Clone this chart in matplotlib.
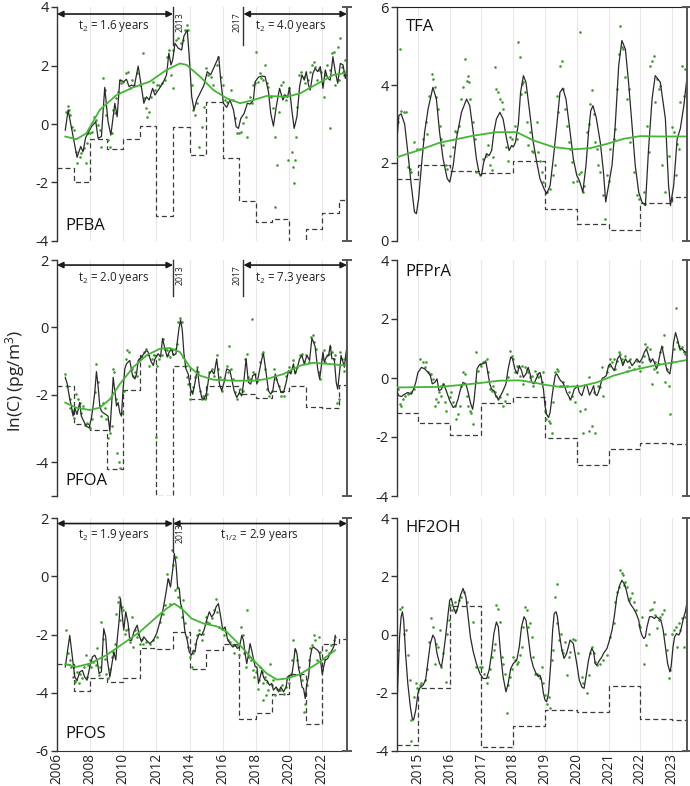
import matplotlib
matplotlib.use('Agg')
import matplotlib.pyplot as plt
import numpy as np

plt.rcParams['font.family'] = ['Open Sans', 'DejaVu Sans']
plt.rcParams['mathtext.fontset'] = 'custom'
plt.rcParams['mathtext.rm'] = 'Open Sans'
plt.rcParams['mathtext.it'] = 'Open Sans:italic'
plt.rcParams['axes.unicode_minus'] = False

# ---------------- DATA ----------------
left_step_years = list(range(2006, 2024)) + [2023.5]
right_step_years = [2014.34] + list(range(2015, 2024)) + [2023.47]

# PFBA
pfba_step = [-1.52, -1.97, -0.52, -0.87, -0.52, -0.07, -3.15, -0.11, -1.06, 0.74, -1.17,
             -2.62, -3.34, -3.26, -4.05, -3.60, -3.03, -2.60]
pfba_fit = [(2006.50, -0.21), (2006.67, 0.48), (2007.21, -1.14), (2007.43, -0.77), (2007.57, -0.95),
            (2007.73, -0.46), (2008.08, -0.09), (2008.34, 0.08), (2008.48, -0.49), (2008.68, -0.43),
            (2008.88, 1.25), (2009.08, 0.08), (2009.25, -0.38), (2009.49, 0.71), (2009.63, 0.25),
            (2009.79, 1.50), (2010.03, 1.45), (2010.19, 1.53), (2010.35, 1.28), (2010.50, 1.33),
            (2010.66, 1.28), (2010.90, 1.98), (2011.06, 1.39), (2011.24, 0.71), (2011.40, 0.93),
            (2011.56, 0.82), (2011.77, 1.22), (2011.91, 0.99), (2012.11, 1.16), (2012.31, 1.33),
            (2012.47, 1.50), (2012.61, 1.68), (2012.75, 2.42), (2012.88, 2.02), (2012.98, 2.19),
            (2013.12, 2.76), (2013.32, 2.59), (2013.52, 2.53), (2013.66, 3.01), (2013.86, 3.21),
            (2013.98, 2.30), (2014.13, 0.93), (2014.27, 0.48), (2014.43, 0.82), (2014.63, 1.05),
            (2014.87, 1.33), (2015.07, 1.79), (2015.27, 1.68), (2015.54, 2.02), (2015.76, 2.30),
            (2015.88, 1.50), (2016.04, 0.71), (2016.24, 0.57), (2016.44, 0.82), (2016.65, 0.48),
            (2016.81, -0.09), (2016.95, -0.15), (2017.09, 0.19), (2017.29, 0.36), (2017.49, 0.71),
            (2017.65, 0.68), (2017.85, 0.82), (2017.96, 1.45), (2018.16, 1.60), (2018.36, 1.64),
            (2018.56, 1.62), (2018.76, 1.11), (2018.90, 0.36), (2019.06, -0.07), (2019.23, 0.59),
            (2019.43, 1.22), (2019.63, 0.82), (2019.77, 0.99), (2019.91, 0.91), (2020.03, 1.25),
            (2020.17, 0.48), (2020.31, -0.15), (2020.48, 0.25), (2020.64, 1.28), (2020.78, 1.68),
            (2020.92, 1.50), (2021.04, 1.79), (2021.18, 1.33), (2021.28, 1.16), (2021.44, 1.73),
            (2021.58, 1.90), (2021.73, 1.79), (2021.89, 1.96), (2022.05, 1.22), (2022.19, 1.85),
            (2022.33, 1.56), (2022.49, 1.50), (2022.65, 2.30), (2022.79, 1.79), (2022.94, 1.39),
            (2023.10, 2.07), (2023.26, 2.02), (2023.40, 1.56), (2023.50, 1.96)]
pfba_trend = [(2006.50, -0.43), (2007.17, -0.52), (2007.77, -0.32), (2008.58, 0.48), (2009.59, 0.99),
              (2010.60, 1.25), (2011.60, 1.45), (2012.61, 1.85), (2013.42, 2.07), (2013.82, 2.02),
              (2014.63, 1.62), (2015.44, 1.16), (2016.24, 0.88), (2017.05, 0.71), (2017.85, 0.82),
              (2018.66, 0.96), (2019.87, 0.93), (2020.68, 1.05), (2021.69, 1.37), (2022.69, 1.68),
              (2023.50, 1.75)]
pfba_obs = [(2006.56, 0.42), (2006.67, 0.62), (2006.73, 0.48), (2006.81, 0.31), (2006.93, -0.09),
            (2007.01, -0.21), (2007.13, -0.95), (2007.21, -1.34), (2007.37, -1.12), (2007.47, -1.00),
            (2007.61, -0.83), (2007.73, -1.34), (2007.81, -0.66), (2007.87, -0.32), (2007.98, -0.32),
            (2008.14, -0.26), (2008.22, 0.25), (2008.34, 0.14), (2008.48, -0.03), (2008.58, -0.21),
            (2008.68, -0.77), (2008.78, 1.56), (2008.88, 1.16), (2008.98, 0.31), (2009.08, -0.55),
            (2009.19, -0.77), (2009.29, -0.32), (2009.39, 0.48), (2009.49, 0.36), (2009.59, 0.88),
            (2009.69, 1.11), (2009.79, 1.50), (2009.89, 1.39), (2009.99, 1.45), (2010.15, 1.75),
            (2010.29, 1.79), (2010.40, 1.22), (2010.50, 1.50), (2010.64, 1.33), (2010.80, 1.73),
            (2011.00, 1.33), (2011.16, 2.44), (2011.24, 0.88), (2011.36, 0.54), (2011.44, 0.25),
            (2011.56, 0.42), (2011.65, 0.93), (2011.77, 1.45), (2011.91, 1.16), (2012.01, 1.33),
            (2012.17, 1.33), (2012.31, 1.39), (2012.51, 1.50), (2012.65, 2.30), (2012.77, 2.53),
            (2012.85, 1.68), (2012.98, 1.22), (2013.02, 2.53), (2013.18, 2.87), (2013.32, 2.93),
            (2013.46, 2.76), (2013.62, 2.87), (2013.72, 3.21), (2013.82, 3.38), (2013.92, 3.21),
            (2014.13, 1.33), (2014.23, 0.48), (2014.33, 0.31), (2014.43, 0.71), (2014.59, -0.77),
            (2014.73, -0.09), (2014.87, 0.59), (2014.99, 1.90), (2015.13, 1.68), (2015.27, 1.62),
            (2015.44, 1.33), (2015.64, 2.02), (2015.74, 2.30), (2015.88, 1.62), (2016.04, 1.33),
            (2016.14, 0.82), (2016.28, 0.76), (2016.48, 1.16), (2016.61, 0.82), (2016.75, 0.19),
            (2016.89, -0.32), (2017.01, -0.30), (2017.09, -0.26), (2017.25, 0.02), (2017.41, 0.25),
            (2017.49, -0.43), (2017.65, 0.93), (2017.75, 0.71), (2017.85, 1.33), (2017.96, 1.39),
            (2018.02, 2.47), (2018.10, 1.45), (2018.22, 1.73), (2018.30, 1.56), (2018.46, 1.50),
            (2018.56, 2.02), (2018.66, 1.39), (2018.76, 1.28), (2018.90, 0.93), (2019.06, 0.54),
            (2019.13, -2.83), (2019.17, -0.46), (2019.27, -1.40), (2019.37, 0.42), (2019.51, 1.33),
            (2019.63, 1.45), (2019.71, 0.99), (2019.83, 0.82), (2019.91, -1.23), (2020.03, 1.22),
            (2020.17, -0.95), (2020.27, -1.46), (2020.33, -2.03), (2020.37, -1.23), (2020.43, -0.43),
            (2020.48, 0.59), (2020.58, 1.68), (2020.72, 1.79), (2020.88, 1.62), (2020.98, 1.39),
            (2021.12, 1.50), (2021.24, 1.79), (2021.38, 2.02), (2021.48, 2.13), (2021.58, 1.96),
            (2021.69, 1.50), (2021.79, 1.85), (2021.93, 1.79), (2022.09, 0.93), (2022.19, 1.68),
            (2022.29, 2.02), (2022.45, 1.85), (2022.45, -0.15), (2022.59, 2.42), (2022.69, 2.47),
            (2022.79, 1.33), (2022.94, 2.64), (2023.00, 1.50), (2023.10, 2.93), (2023.20, 1.96),
            (2023.26, 1.79), (2023.30, 1.68), (2023.40, 2.19), (2023.50, 2.89)]

# PFOA
pfoa_step = [-1.73, -2.85, -3.05, -4.21, -1.86, -0.81, -5.00, -1.15, -2.13, -1.73, -1.73,
             -1.98, -2.10, -1.88, -1.75, -2.35, -2.38, -1.71]
pfoa_fit = [(2006.50, -1.48), (2006.62, -1.68), (2006.77, -2.13), (2006.87, -2.33), (2006.97, -2.63),
            (2007.07, -2.38), (2007.21, -2.58), (2007.37, -2.23), (2007.47, -2.63), (2007.61, -2.78),
            (2007.77, -2.93), (2007.94, -2.98), (2008.08, -2.68), (2008.18, -2.33), (2008.28, -1.93),
            (2008.38, -1.31), (2008.48, -1.73), (2008.58, -2.33), (2008.68, -2.48), (2008.78, -2.53),
            (2008.94, -2.58), (2009.08, -2.63), (2009.19, -3.08), (2009.29, -2.33), (2009.39, -1.48),
            (2009.49, -1.88), (2009.59, -2.33), (2009.69, -2.23), (2009.79, -2.53), (2009.89, -2.63),
            (2009.99, -1.83), (2010.09, -1.23), (2010.19, -1.08), (2010.39, -0.98), (2010.56, -1.43),
            (2010.70, -1.53), (2010.80, -1.38), (2010.90, -0.98), (2011.10, -0.88), (2011.24, -0.78),
            (2011.40, -0.68), (2011.50, -0.73), (2011.65, -0.98), (2011.81, -1.13), (2011.91, -0.93),
            (2012.11, -0.78), (2012.25, -0.88), (2012.37, -0.33), (2012.51, -0.63), (2012.65, -0.88),
            (2012.77, -0.73), (2012.91, -0.63), (2013.02, -0.83), (2013.18, -0.78), (2013.26, -0.43),
            (2013.36, -0.03), (2013.46, 0.22), (2013.56, -0.08), (2013.66, -0.78), (2013.78, -1.23),
            (2013.92, -1.38), (2014.06, -1.83), (2014.19, -1.98), (2014.33, -1.63), (2014.47, -1.23),
            (2014.59, -1.73), (2014.73, -2.08), (2014.87, -2.13), (2015.03, -1.93), (2015.19, -1.38),
            (2015.33, -1.28), (2015.48, -1.38), (2015.64, -0.93), (2015.80, -1.68), (2015.94, -1.88),
            (2016.08, -1.63), (2016.24, -1.23), (2016.44, -1.28), (2016.54, -1.53), (2016.69, -1.88),
            (2016.85, -2.08), (2017.01, -1.93), (2017.15, -2.03), (2017.29, -1.53), (2017.41, -0.93),
            (2017.55, -1.63), (2017.69, -1.68), (2017.81, -1.43), (2017.96, -1.38), (2018.06, -1.68),
            (2018.22, -1.28), (2018.36, -0.93), (2018.46, -0.78), (2018.60, -1.28), (2018.76, -1.88),
            (2018.90, -1.98), (2019.02, -1.88), (2019.17, -1.38), (2019.31, -1.63), (2019.43, -1.78),
            (2019.51, -1.93), (2019.67, -1.93), (2019.83, -1.63), (2019.97, -1.28), (2020.11, -1.38),
            (2020.27, -1.08), (2020.37, -1.38), (2020.48, -1.23), (2020.64, -0.93), (2020.78, -0.83),
            (2020.92, -1.08), (2021.08, -0.83), (2021.24, -0.98), (2021.38, -0.33), (2021.48, -0.43),
            (2021.58, -0.58), (2021.73, -1.23), (2021.85, -1.53), (2021.93, -1.23), (2022.05, -0.73),
            (2022.13, -1.03), (2022.25, -0.88), (2022.39, -0.83), (2022.49, -0.53), (2022.59, -0.93),
            (2022.73, -0.93), (2022.85, -1.63), (2022.94, -1.83), (2023.06, -1.28), (2023.14, -0.83),
            (2023.26, -1.03), (2023.34, -1.18), (2023.42, -0.83), (2023.50, -0.58)]
pfoa_trend = [(2006.50, -2.23), (2007.17, -2.38), (2007.98, -2.45), (2008.58, -2.38), (2009.19, -2.13),
              (2009.79, -1.68), (2010.60, -1.18), (2011.40, -0.83), (2012.21, -0.63), (2012.81, -0.61),
              (2013.42, -0.73), (2014.02, -1.18), (2014.63, -1.43), (2015.44, -1.55), (2016.65, -1.58),
              (2017.85, -1.58), (2018.66, -1.53), (2019.67, -1.38), (2020.68, -1.13), (2021.48, -1.05),
              (2022.29, -1.08), (2023.50, -1.13)]
pfoa_obs = [(2006.50, -1.38), (2006.62, -1.73), (2006.77, -2.13), (2006.81, -2.38), (2006.93, -2.48),
            (2007.01, -2.68), (2007.13, -1.98), (2007.27, -2.13), (2007.37, -2.23), (2007.47, -2.53),
            (2007.57, -2.33), (2007.67, -2.88), (2007.81, -2.83), (2007.98, -2.98), (2008.14, -2.73),
            (2008.28, -1.93), (2008.38, -1.08), (2008.50, -1.63), (2008.58, -2.33), (2008.68, -2.63),
            (2008.78, -2.23), (2008.88, -2.38), (2008.98, -2.73), (2009.08, -3.28), (2009.19, -3.13),
            (2009.29, -2.93), (2009.35, -1.23), (2009.43, -1.33), (2009.55, -2.13), (2009.63, -3.73),
            (2009.75, -3.98), (2009.83, -4.18), (2009.95, -2.53), (2010.03, -1.88), (2010.15, -0.93),
            (2010.23, -0.68), (2010.35, -0.73), (2010.50, -1.23), (2010.60, -1.43), (2010.70, -1.33),
            (2010.80, -1.43), (2010.96, -0.93), (2011.10, -0.88), (2011.24, -0.73), (2011.40, -0.63),
            (2011.56, -1.13), (2011.71, -0.93), (2011.85, -0.83), (2011.97, -3.25), (2012.01, -1.13),
            (2012.17, -0.93), (2012.31, -0.83), (2012.41, -0.33), (2012.51, -0.63), (2012.61, -0.68),
            (2012.71, -0.83), (2012.81, -0.88), (2012.91, -0.68), (2013.02, -0.78), (2013.12, -0.63),
            (2013.22, -0.48), (2013.32, 0.17), (2013.42, 0.27), (2013.52, 0.17), (2013.62, -0.88),
            (2013.72, -1.13), (2013.82, -1.48), (2013.92, -1.68), (2014.02, -2.13), (2014.12, -1.88),
            (2014.23, -1.78), (2014.33, -1.48), (2014.43, -1.18), (2014.53, -1.33), (2014.63, -1.88),
            (2014.73, -2.13), (2014.83, -2.03), (2014.93, -2.13), (2015.07, -1.98), (2015.19, -1.33),
            (2015.33, -1.23), (2015.48, -1.43), (2015.64, -0.83), (2015.74, -1.23), (2015.84, -1.48),
            (2015.94, -1.88), (2016.08, -1.53), (2016.24, -1.13), (2016.34, -1.33), (2016.40, -0.55),
            (2016.48, -1.23), (2016.61, -1.53), (2016.75, -1.93), (2016.89, -2.13), (2017.05, -1.83),
            (2017.21, -1.88), (2017.35, -0.93), (2017.45, -0.78), (2017.55, -1.48), (2017.65, -1.53),
            (2017.75, 0.25), (2017.85, -1.33), (2017.96, -1.38), (2018.06, -1.58), (2018.22, -1.03),
            (2018.36, -0.78), (2018.46, -0.73), (2018.56, -1.23), (2018.66, -1.83), (2018.82, -2.03),
            (2018.96, -1.88), (2019.10, -1.23), (2019.23, -1.53), (2019.37, -1.73), (2019.51, -2.03),
            (2019.67, -2.03), (2019.83, -1.43), (2019.97, -1.18), (2020.07, -1.33), (2020.23, -0.98),
            (2020.37, -1.33), (2020.48, -1.18), (2020.64, -0.83), (2020.78, -0.78), (2020.88, -1.03),
            (2021.04, -0.83), (2021.18, -1.03), (2021.32, -0.28), (2021.44, -0.23), (2021.52, -0.43),
            (2021.64, -0.63), (2021.79, -1.33), (2021.89, -1.53), (2021.99, -0.93), (2022.09, -0.68),
            (2022.19, -1.03), (2022.29, -0.83), (2022.39, -0.78), (2022.49, -0.58), (2022.59, -0.73),
            (2022.69, -0.93), (2022.79, -0.83), (2022.89, -2.23), (2022.99, -2.13), (2023.10, -0.73),
            (2023.20, -0.93), (2023.30, -1.28), (2023.40, -0.93), (2023.50, -0.13)]

# PFOS
pfos_step = [-3.00, -3.94, -3.51, -3.63, -3.49, -2.46, -2.51, -1.92, -3.20, -2.54, -2.33,
             -4.91, -4.68, -4.05, -3.34, -5.06, -2.33, -2.17]
pfos_fit = [(2006.50, -3.11), (2006.77, -2.03), (2007.07, -3.46), (2007.21, -3.57), (2007.37, -3.29),
            (2007.53, -3.23), (2007.67, -3.46), (2007.81, -3.57), (2007.98, -3.11), (2008.14, -2.77),
            (2008.28, -2.71), (2008.42, -2.88), (2008.54, -3.34), (2008.68, -3.28), (2008.82, -1.80),
            (2008.94, -2.08), (2009.04, -2.88), (2009.19, -3.46), (2009.29, -3.11), (2009.43, -2.60),
            (2009.55, -2.88), (2009.63, -2.20), (2009.75, -1.51), (2009.83, -0.77), (2009.95, -1.40),
            (2010.03, -1.85), (2010.15, -1.22), (2010.29, -1.62), (2010.39, -2.20), (2010.50, -2.20),
            (2010.64, -1.91), (2010.84, -1.68), (2010.96, -2.03), (2011.10, -2.25), (2011.24, -2.08),
            (2011.40, -2.20), (2011.60, -2.31), (2011.81, -2.20), (2012.01, -1.97), (2012.21, -1.57),
            (2012.41, -1.11), (2012.57, -0.59), (2012.71, -0.08), (2012.85, -0.37), (2012.98, 0.21),
            (2013.08, 0.78), (2013.18, 0.43), (2013.28, -0.37), (2013.38, -0.42), (2013.46, -0.94),
            (2013.58, -1.17), (2013.72, -1.91), (2013.86, -2.20), (2013.98, -2.60), (2014.12, -2.71),
            (2014.23, -2.54), (2014.33, -2.60), (2014.43, -2.20), (2014.59, -1.97), (2014.73, -2.03),
            (2014.87, -1.85), (2015.03, -1.51), (2015.19, -1.22), (2015.33, -1.40), (2015.48, -1.28),
            (2015.60, -1.05), (2015.74, -0.94), (2015.88, -1.40), (2016.00, -1.85), (2016.14, -1.74),
            (2016.28, -2.14), (2016.44, -2.31), (2016.61, -2.43), (2016.75, -2.37), (2016.89, -2.48),
            (2017.01, -2.43), (2017.15, -2.03), (2017.25, -2.20), (2017.35, -2.65), (2017.45, -3.00),
            (2017.55, -2.71), (2017.65, -2.31), (2017.75, -2.54), (2017.85, -2.83), (2017.96, -3.11),
            (2018.06, -3.11), (2018.16, -3.68), (2018.26, -3.46), (2018.36, -3.23), (2018.46, -3.46),
            (2018.56, -3.57), (2018.66, -3.57), (2018.82, -3.74), (2018.96, -3.68), (2019.06, -3.91),
            (2019.23, -3.80), (2019.37, -3.97), (2019.51, -3.80), (2019.67, -3.97), (2019.83, -3.80),
            (2019.91, -3.46), (2020.03, -3.40), (2020.17, -3.40), (2020.27, -3.00), (2020.37, -2.48),
            (2020.48, -2.65), (2020.58, -3.17), (2020.68, -3.40), (2020.78, -3.80), (2020.88, -3.86),
            (2020.98, -4.20), (2021.08, -3.68), (2021.18, -3.46), (2021.28, -2.77), (2021.38, -2.48),
            (2021.48, -2.43), (2021.58, -2.48), (2021.73, -2.54), (2021.85, -2.65), (2021.93, -3.00),
            (2022.01, -3.36), (2022.09, -3.11), (2022.19, -2.88), (2022.33, -2.83), (2022.49, -2.65),
            (2022.65, -2.48), (2022.73, -2.37), (2022.79, -2.03)]
pfos_trend = [(2006.50, -3.02), (2007.17, -3.11), (2007.98, -3.00), (2008.98, -2.71), (2009.99, -2.31),
              (2011.00, -1.91), (2012.01, -1.40), (2012.61, -1.11), (2013.08, -0.94), (2013.52, -1.11),
              (2014.12, -1.45), (2014.83, -1.62), (2015.64, -1.72), (2016.24, -1.91), (2017.05, -2.37),
              (2017.85, -2.88), (2018.66, -3.34), (2019.27, -3.55), (2019.87, -3.51), (2020.68, -3.36),
              (2021.69, -3.00), (2022.79, -2.54)]
pfos_obs = [(2006.56, -1.85), (2006.67, -2.65), (2006.77, -2.88), (2006.87, -3.11), (2006.97, -3.45),
            (2007.07, -3.63), (2007.17, -3.57), (2007.21, -3.28), (2007.33, -3.68), (2007.41, -3.34),
            (2007.53, -3.51), (2007.61, -3.11), (2007.73, -2.71), (2007.81, -3.45), (2007.90, -3.05),
            (2007.98, -2.88), (2008.08, -3.11), (2008.18, -2.94), (2008.34, -3.05), (2008.42, -2.48),
            (2008.54, -3.40), (2008.62, -3.11), (2008.68, -1.57), (2008.78, -2.14), (2008.88, -2.83),
            (2008.98, -3.34), (2009.08, -3.51), (2009.19, -3.17), (2009.29, -2.77), (2009.39, -2.60),
            (2009.49, -2.31), (2009.59, -1.28), (2009.69, -0.88), (2009.75, -0.71), (2009.83, -1.51),
            (2009.91, -1.05), (2009.99, -1.17), (2010.09, -1.97), (2010.19, -1.85), (2010.29, -1.80),
            (2010.39, -2.25), (2010.50, -1.40), (2010.60, -2.43), (2010.70, -1.85), (2010.80, -2.08),
            (2010.90, -1.97), (2011.00, -2.31), (2011.10, -2.14), (2011.20, -2.31), (2011.40, -2.25),
            (2011.60, -2.31), (2011.81, -2.20), (2012.01, -2.08), (2012.21, -1.57), (2012.41, -1.28),
            (2012.51, -1.00), (2012.61, 0.09), (2012.71, -0.14), (2012.81, -0.94), (2012.91, 0.89),
            (2013.02, 0.38), (2013.12, -0.48), (2013.18, 0.66), (2013.26, -0.42), (2013.32, -0.71),
            (2013.42, -1.05), (2013.52, -1.40), (2013.62, -0.82), (2013.72, -1.62), (2013.82, -2.08),
            (2013.92, -2.43), (2014.02, -2.77), (2014.12, -3.11), (2014.23, -2.65), (2014.33, -2.31),
            (2014.43, -2.02), (2014.59, -1.85), (2014.73, -2.20), (2014.83, -1.97), (2014.99, -1.40),
            (2015.07, -1.57), (2015.19, -1.62), (2015.33, -1.45), (2015.48, -1.17), (2015.60, -0.79),
            (2015.68, -1.22), (2015.80, -1.74), (2015.94, -1.80), (2016.08, -2.02), (2016.20, -1.91),
            (2016.34, -2.20), (2016.44, -2.25), (2016.61, -2.37), (2016.69, -2.65), (2016.85, -2.37),
            (2017.01, -2.71), (2017.09, -1.74), (2017.21, -2.02), (2017.29, -2.65), (2017.41, -3.11),
            (2017.49, -1.17), (2017.61, -2.77), (2017.69, -2.88), (2017.81, -3.23), (2017.89, -3.45),
            (2018.02, -3.28), (2018.10, -3.86), (2018.18, -3.57), (2018.26, -3.11), (2018.36, -3.28),
            (2018.42, -4.26), (2018.46, -3.68), (2018.56, -3.45), (2018.62, -4.08), (2018.66, -3.63),
            (2018.76, -3.91), (2018.86, -3.00), (2018.96, -3.74), (2019.06, -3.57), (2019.17, -4.08),
            (2019.27, -3.86), (2019.43, -3.91), (2019.57, -3.74), (2019.67, -4.03), (2019.83, -3.80),
            (2019.91, -3.45), (2020.03, -3.68), (2020.11, -3.34), (2020.19, -2.88), (2020.27, -2.20),
            (2020.37, -2.54), (2020.48, -2.88), (2020.58, -3.11), (2020.68, -3.40), (2020.78, -3.57),
            (2020.88, -4.65), (2020.98, -4.37), (2021.08, -3.74), (2021.18, -2.88), (2021.28, -2.48),
            (2021.38, -2.37), (2021.48, -2.02), (2021.58, -2.20), (2021.69, -2.88), (2021.79, -2.08),
            (2021.89, -2.60), (2021.99, -3.23), (2022.09, -2.83), (2022.25, -2.54), (2022.39, -2.65),
            (2022.53, -2.37), (2022.69, -2.20), (2022.79, -2.08)]

# TFA
tfa_step = [1.58, 1.95, 1.79, 1.75, 2.06, 0.81, 0.44, 0.29, 0.98, 1.13]
tfa_fit = [(2014.34, 2.62), (2014.40, 3.22), (2014.47, 3.26), (2014.58, 3.00), (2014.68, 2.28),
           (2014.79, 1.43), (2014.89, 0.74), (2014.95, 0.70), (2015.02, 1.08), (2015.11, 1.94),
           (2015.21, 2.79), (2015.32, 3.39), (2015.47, 3.94), (2015.58, 3.64), (2015.68, 2.79),
           (2015.79, 2.11), (2015.92, 1.60), (2016.00, 1.51), (2016.11, 1.94), (2016.21, 2.62),
           (2016.37, 3.30), (2016.53, 3.64), (2016.63, 3.47), (2016.74, 2.79), (2016.84, 2.11),
           (2016.93, 1.72), (2017.00, 1.68), (2017.07, 2.02), (2017.16, 2.24), (2017.24, 2.19),
           (2017.32, 2.32), (2017.39, 2.79), (2017.47, 3.13), (2017.58, 3.30), (2017.68, 3.13),
           (2017.79, 2.62), (2017.87, 2.32), (2017.95, 2.45), (2018.00, 2.41), (2018.07, 2.53),
           (2018.16, 3.00), (2018.23, 3.81), (2018.32, 4.24), (2018.40, 4.07), (2018.53, 3.22),
           (2018.63, 2.53), (2018.74, 2.02), (2018.84, 1.60), (2018.97, 1.34), (2019.05, 1.21),
           (2019.16, 1.42), (2019.26, 2.11), (2019.37, 2.96), (2019.47, 3.81), (2019.56, 3.92),
           (2019.66, 3.64), (2019.79, 2.79), (2019.89, 2.11), (2020.00, 1.68), (2020.08, 1.55),
           (2020.13, 1.42), (2020.19, 1.25), (2020.29, 1.94), (2020.37, 2.79), (2020.44, 3.34),
           (2020.51, 3.47), (2020.61, 3.17), (2020.74, 2.53), (2020.84, 1.77), (2020.91, 1.00),
           (2021.00, 1.42), (2021.11, 1.94), (2021.21, 2.96), (2021.32, 4.50), (2021.42, 5.14),
           (2021.53, 4.92), (2021.63, 4.07), (2021.74, 2.96), (2021.84, 1.94), (2021.95, 1.25),
           (2022.05, 1.00), (2022.16, 0.91), (2022.26, 2.36), (2022.37, 3.64), (2022.47, 4.24),
           (2022.63, 4.07), (2022.79, 3.13), (2022.89, 1.42), (2022.95, 0.91), (2023.05, 1.42),
           (2023.16, 2.62), (2023.26, 2.88), (2023.37, 3.47), (2023.47, 4.20)]
tfa_trend = [(2014.34, 2.15), (2015.00, 2.32), (2015.68, 2.52), (2016.74, 2.70), (2017.47, 2.79),
             (2018.11, 2.79), (2018.63, 2.58), (2019.26, 2.41), (2019.89, 2.35), (2020.42, 2.38),
             (2020.95, 2.49), (2021.47, 2.62), (2022.00, 2.69), (2022.53, 2.68), (2023.47, 2.68)]
tfa_obs = [(2014.37, 3.05), (2014.42, 4.92), (2014.47, 3.34), (2014.55, 3.30), (2014.61, 3.30),
           (2014.68, 1.89), (2014.74, 1.85), (2014.79, 1.77), (2014.89, 2.53), (2014.97, 2.36),
           (2015.05, 2.36), (2015.16, 2.62), (2015.24, 3.05), (2015.28, 2.75), (2015.35, 3.73),
           (2015.45, 4.28), (2015.47, 4.16), (2015.53, 3.94), (2015.58, 3.69), (2015.63, 3.39),
           (2015.68, 2.96), (2015.74, 2.62), (2015.79, 2.45), (2015.87, 1.94), (2015.92, 1.85),
           (2016.00, 2.19), (2016.11, 2.41), (2016.16, 2.83), (2016.21, 2.79), (2016.29, 2.96),
           (2016.37, 3.64), (2016.42, 3.94), (2016.47, 4.67), (2016.53, 4.11), (2016.58, 4.24),
           (2016.61, 4.07), (2016.65, 3.64), (2016.72, 3.05), (2016.79, 2.62), (2016.84, 1.77),
           (2016.95, 1.68), (2017.05, 2.11), (2017.14, 2.19), (2017.21, 2.45), (2017.26, 1.94),
           (2017.32, 1.81), (2017.37, 2.15), (2017.42, 4.45), (2017.47, 3.90), (2017.53, 3.81),
           (2017.58, 3.64), (2017.63, 3.56), (2017.68, 3.39), (2017.77, 2.41), (2017.84, 2.06),
           (2017.89, 2.66), (2017.95, 2.62), (2018.05, 2.96), (2018.11, 2.62), (2018.16, 5.09),
           (2018.21, 4.71), (2018.23, 3.77), (2018.26, 4.03), (2018.32, 4.07), (2018.37, 3.81),
           (2018.42, 3.05), (2018.47, 2.45), (2018.53, 2.79), (2018.58, 2.32), (2018.63, 2.28),
           (2018.74, 3.05), (2018.79, 2.28), (2018.84, 2.06), (2018.89, 1.77), (2018.95, 1.51),
           (2019.05, 1.25), (2019.16, 1.34), (2019.26, 1.68), (2019.32, 1.94), (2019.37, 3.73),
           (2019.42, 3.30), (2019.47, 4.50), (2019.53, 4.62), (2019.58, 3.90), (2019.63, 3.39),
           (2019.68, 2.96), (2019.74, 2.53), (2019.79, 2.36), (2019.84, 2.02), (2019.89, 1.51),
           (2020.00, 1.53), (2020.08, 1.72), (2020.11, 5.35), (2020.13, 1.77), (2020.19, 1.25),
           (2020.23, 1.42), (2020.32, 2.79), (2020.37, 3.00), (2020.42, 3.52), (2020.47, 3.86),
           (2020.53, 3.26), (2020.58, 2.53), (2020.63, 2.36), (2020.68, 1.94), (2020.74, 1.77),
           (2020.84, 1.17), (2020.89, 0.57), (2020.95, 1.68), (2021.00, 1.55), (2021.05, 2.36),
           (2021.16, 2.62), (2021.21, 2.88), (2021.26, 3.90), (2021.32, 4.80), (2021.37, 5.52),
           (2021.42, 4.97), (2021.47, 4.92), (2021.53, 4.20), (2021.58, 3.64), (2021.63, 3.90),
           (2021.68, 2.53), (2021.79, 1.77), (2021.89, 1.17), (2021.95, 1.08), (2022.11, 1.25),
           (2022.16, 0.96), (2022.21, 2.96), (2022.26, 2.28), (2022.32, 4.50), (2022.37, 4.62),
           (2022.42, 4.75), (2022.47, 3.56), (2022.53, 4.16), (2022.58, 3.90), (2022.63, 3.98),
           (2022.68, 1.94), (2022.79, 1.25), (2022.89, 2.19), (2023.00, 2.92), (2023.05, 2.79),
           (2023.11, 1.68), (2023.16, 2.49), (2023.21, 2.36), (2023.26, 3.56), (2023.32, 4.50),
           (2023.37, 3.73), (2023.42, 4.41), (2023.47, 5.22)]

# PFPrA
pfpra_step = [-1.17, -1.51, -1.93, -0.85, -0.66, -2.03, -2.94, -2.42, -2.20, -2.25]
pfpra_fit = [(2014.34, -0.49), (2014.40, -0.60), (2014.47, -0.63), (2014.58, -0.55), (2014.68, -0.49),
             (2014.79, -0.55), (2014.86, -0.38), (2014.93, -0.15), (2015.00, 0.19), (2015.11, 0.36),
             (2015.21, 0.31), (2015.32, 0.19), (2015.39, 0.08), (2015.45, -0.20), (2015.53, -0.15),
             (2015.60, -0.03), (2015.66, -0.43), (2015.74, -0.38), (2015.81, -0.20), (2015.89, -0.43),
             (2016.00, -0.77), (2016.11, -1.00), (2016.19, -0.94), (2016.26, -0.72), (2016.34, -0.38),
             (2016.42, -0.15), (2016.51, -0.20), (2016.58, -0.49), (2016.65, -0.83), (2016.72, -1.06),
             (2016.77, -0.72), (2016.82, -0.15), (2016.86, 0.31), (2016.93, 0.44), (2017.03, 0.48),
             (2017.14, 0.53), (2017.18, 0.31), (2017.26, -0.20), (2017.32, -0.38), (2017.39, -0.43),
             (2017.45, -0.60), (2017.53, -0.72), (2017.60, -0.60), (2017.68, -0.43), (2017.77, -0.20),
             (2017.84, 0.31), (2017.92, 0.71), (2017.98, 0.65), (2018.05, 0.31), (2018.13, 0.14),
             (2018.19, 0.42), (2018.26, 0.25), (2018.32, 0.02), (2018.40, 0.14), (2018.47, 0.36),
             (2018.53, 0.14), (2018.58, -0.15), (2018.65, -0.20), (2018.72, -0.03), (2018.79, 0.14),
             (2018.84, 0.19), (2018.89, -0.03), (2018.95, -0.38), (2019.00, -0.94), (2019.05, -1.23),
             (2019.11, -1.34), (2019.16, -1.17), (2019.21, -0.72), (2019.26, -0.32), (2019.32, 0.08),
             (2019.37, 0.14), (2019.43, 0.02), (2019.49, -0.09), (2019.56, -0.15), (2019.63, -0.32),
             (2019.68, -0.49), (2019.74, -0.60), (2019.79, -0.72), (2019.84, -0.66), (2019.92, -0.38),
             (2019.98, -0.32), (2020.02, -0.24), (2020.08, -0.49), (2020.16, -0.60), (2020.26, -0.24),
             (2020.32, -0.26), (2020.40, -0.58), (2020.47, -0.43), (2020.53, -0.26), (2020.58, -0.55),
             (2020.63, -0.60), (2020.68, -0.49), (2020.74, -0.26), (2020.80, -0.01), (2020.86, 0.02),
             (2020.93, 0.08), (2021.00, 0.42), (2021.05, 0.48), (2021.11, 0.36), (2021.18, 0.25),
             (2021.24, 0.48), (2021.28, 0.65), (2021.35, 0.76), (2021.39, 0.65), (2021.45, 0.42),
             (2021.53, 0.65), (2021.60, 0.53), (2021.66, 0.59), (2021.74, 0.42), (2021.79, 0.48),
             (2021.89, 0.65), (2021.98, 0.53), (2022.05, 0.65), (2022.13, 0.88), (2022.19, 0.99),
             (2022.26, 0.76), (2022.32, 0.53), (2022.39, 0.65), (2022.44, 0.53), (2022.51, 0.31),
             (2022.55, 0.42), (2022.61, 0.76), (2022.68, 1.08), (2022.76, 0.65), (2022.84, 0.25),
             (2022.93, 0.14), (2023.00, 0.65), (2023.05, 1.22), (2023.11, 1.54), (2023.18, 1.27),
             (2023.24, 0.99), (2023.32, 0.99), (2023.39, 0.90), (2023.47, 0.85)]
pfpra_trend = [(2014.34, -0.32), (2015.00, -0.31), (2015.68, -0.30), (2016.32, -0.24), (2016.95, -0.17),
               (2017.58, -0.09), (2018.21, -0.08), (2018.63, -0.15), (2019.05, -0.24), (2019.47, -0.30),
               (2020.11, -0.28), (2020.63, -0.15), (2021.16, 0.08), (2021.79, 0.27), (2022.42, 0.42),
               (2023.05, 0.53), (2023.47, 0.61)]
pfpra_obs = [(2014.37, -0.38), (2014.42, -0.89), (2014.47, -0.94), (2014.53, -0.72), (2014.58, -0.60),
             (2014.68, -0.55), (2014.79, -0.49), (2014.89, -0.38), (2015.05, 0.65), (2015.16, 0.53),
             (2015.21, 0.36), (2015.26, 0.53), (2015.32, 0.19), (2015.37, 0.14), (2015.42, 0.14),
             (2015.47, -0.03), (2015.53, -0.94), (2015.58, -0.72), (2015.63, -0.83), (2015.66, -0.49),
             (2015.71, -0.60), (2015.74, -0.26), (2015.79, -0.20), (2015.84, -0.83), (2015.89, -1.12),
             (2016.00, -0.66), (2016.05, -0.49), (2016.11, -0.83), (2016.16, -0.94), (2016.21, -1.40),
             (2016.26, -1.23), (2016.32, -0.94), (2016.37, -0.26), (2016.42, 0.19), (2016.47, 0.14),
             (2016.53, -0.60), (2016.58, -0.94), (2016.63, -1.12), (2016.68, -1.17), (2016.74, -1.57),
             (2016.82, -0.15), (2016.84, 0.88), (2016.89, 0.25), (2016.95, 0.48), (2017.00, 0.42),
             (2017.05, 0.53), (2017.11, 0.59), (2017.16, 0.65), (2017.21, 0.19), (2017.26, -0.38),
             (2017.32, -0.43), (2017.37, -0.26), (2017.42, -0.49), (2017.47, -0.60), (2017.53, -0.72),
             (2017.58, -0.66), (2017.68, -0.94), (2017.74, -0.77), (2017.79, -0.55), (2017.84, 0.02),
             (2017.89, 0.93), (2017.95, 0.76), (2018.00, 0.65), (2018.05, 0.19), (2018.11, 0.42),
             (2018.16, 0.36), (2018.21, 0.08), (2018.26, 0.42), (2018.32, -0.20), (2018.37, 0.36),
             (2018.42, 0.31), (2018.47, 0.19), (2018.53, 0.02), (2018.58, 0.08), (2018.63, -0.26),
             (2018.68, 0.25), (2018.74, 0.14), (2018.79, 0.02), (2018.84, 0.08), (2018.89, -0.15),
             (2018.95, 0.19), (2019.00, -1.12), (2019.03, -1.40), (2019.11, -1.46), (2019.16, -1.51),
             (2019.21, -1.85), (2019.26, -0.83), (2019.32, 0.19), (2019.37, 0.31), (2019.42, 0.25),
             (2019.47, -0.26), (2019.53, -0.26), (2019.58, -0.15), (2019.68, -0.26), (2019.74, -0.49),
             (2019.79, -0.72), (2019.84, -0.60), (2019.95, -0.83), (2020.11, -1.12), (2020.21, -1.85),
             (2020.26, -1.06), (2020.37, 0.02), (2020.40, -1.80), (2020.47, -1.63), (2020.53, -0.49),
             (2020.58, -1.85), (2020.68, -0.26), (2020.74, -0.32), (2020.79, 0.36), (2020.84, -0.60),
             (2020.95, 0.19), (2021.00, 0.42), (2021.05, 0.65), (2021.11, 0.53), (2021.16, 0.65),
             (2021.21, 0.31), (2021.26, 0.59), (2021.32, 0.88), (2021.37, 0.82), (2021.42, 0.65),
             (2021.47, 0.53), (2021.53, 0.76), (2021.58, 0.25), (2021.63, 0.36), (2021.68, 0.65),
             (2021.79, 0.31), (2021.89, 0.59), (2021.95, 0.42), (2022.00, 0.25), (2022.05, 0.53),
             (2022.11, 0.76), (2022.16, 1.16), (2022.21, 1.05), (2022.26, 0.65), (2022.32, 0.99),
             (2022.37, -0.20), (2022.42, 0.31), (2022.47, 0.53), (2022.53, 0.19), (2022.58, 0.48),
             (2022.63, 0.88), (2022.68, 1.05), (2022.74, 1.45), (2022.79, -0.15), (2022.84, 0.31),
             (2022.89, -0.26), (2022.95, -1.23), (2023.00, 0.53), (2023.05, 0.99), (2023.11, 2.36),
             (2023.16, 1.22), (2023.21, 1.10), (2023.26, 0.99), (2023.32, 1.05), (2023.37, 0.88),
             (2023.42, 0.82), (2023.47, 1.90)]

# HF2OH
hf2oh_step = [-3.78, -1.85, 0.97, -3.86, -3.13, -2.60, -2.65, -1.76, -2.91, -2.94]
hf2oh_fit = [(2014.34, -2.48), (2014.38, -1.22), (2014.42, -0.08), (2014.47, 0.61), (2014.51, 0.78),
             (2014.55, 0.49), (2014.61, -0.65), (2014.68, -1.68), (2014.76, -2.48), (2014.82, -2.88),
             (2014.86, -2.94), (2014.93, -2.60), (2015.00, -2.02), (2015.05, -1.85), (2015.16, -1.74),
             (2015.24, -1.57), (2015.32, -0.88), (2015.39, -0.31), (2015.47, -0.02), (2015.53, -0.14),
             (2015.60, -0.65), (2015.68, -1.00), (2015.74, -1.11), (2015.79, -0.77), (2015.87, -0.08),
             (2015.95, 0.72), (2016.00, 1.18), (2016.05, 1.24), (2016.11, 0.95), (2016.19, 0.72),
             (2016.26, 0.95), (2016.34, 1.35), (2016.42, 1.58), (2016.51, 1.29), (2016.58, 0.61),
             (2016.65, -0.08), (2016.74, -0.59), (2016.84, -1.00), (2016.95, -1.34), (2017.05, -1.51),
             (2017.16, -1.51), (2017.24, -1.22), (2017.32, -0.65), (2017.39, 0.03), (2017.47, 0.43),
             (2017.53, 0.26), (2017.60, -0.65), (2017.68, -1.45), (2017.77, -1.97), (2017.84, -1.68),
             (2017.92, -1.17), (2018.00, -1.00), (2018.11, -0.88), (2018.19, -0.42), (2018.26, 0.26),
             (2018.34, 0.61), (2018.40, 0.49), (2018.47, -0.08), (2018.55, -0.77), (2018.63, -1.11),
             (2018.72, -1.34), (2018.79, -1.45), (2018.84, -1.40), (2018.89, -1.57), (2018.95, -2.02),
             (2019.00, -2.25), (2019.05, -2.31), (2019.11, -2.02), (2019.18, -1.00), (2019.24, 0.15),
             (2019.29, 0.72), (2019.35, 0.78), (2019.39, 0.61), (2019.45, 0.03), (2019.53, -0.54),
             (2019.60, -0.82), (2019.68, -0.65), (2019.79, -0.19), (2019.89, -0.31), (2020.00, -1.00),
             (2020.08, -1.57), (2020.16, -1.80), (2020.23, -1.85), (2020.29, -1.45), (2020.37, -0.88),
             (2020.42, -0.65), (2020.47, -0.48), (2020.53, -0.59), (2020.58, -1.00), (2020.63, -1.05),
             (2020.72, -0.88), (2020.79, -0.77), (2020.84, -0.65), (2020.95, -0.48), (2021.03, -0.19),
             (2021.11, 0.15), (2021.18, 0.61), (2021.26, 1.29), (2021.35, 1.69), (2021.42, 1.86),
             (2021.49, 1.75), (2021.56, 1.52), (2021.63, 1.18), (2021.71, 1.01), (2021.79, 0.89),
             (2021.87, 0.72), (2021.95, 0.49), (2022.00, 0.15), (2022.05, -0.02), (2022.11, -0.14),
             (2022.16, -0.08), (2022.21, 0.26), (2022.29, 0.61), (2022.37, 0.61), (2022.44, 0.55),
             (2022.51, 0.61), (2022.58, 0.55), (2022.65, 0.49), (2022.72, 0.15), (2022.79, -0.42),
             (2022.86, -1.00), (2022.93, -1.28), (2022.97, -1.11), (2023.03, -0.42), (2023.08, -0.08),
             (2023.14, 0.03), (2023.21, -0.02), (2023.26, 0.09), (2023.32, 0.38), (2023.37, 0.61),
             (2023.42, 0.78), (2023.47, 1.12)]
hf2oh_obs = [(2014.37, -0.54), (2014.42, 0.89), (2014.51, 0.93), (2014.55, 0.03), (2014.61, 0.15),
             (2014.68, -0.71), (2014.74, -1.57), (2014.77, -3.65), (2014.79, -2.94), (2014.86, -2.14),
             (2014.93, -1.68), (2014.97, -1.85), (2015.05, -1.74), (2015.11, -1.68), (2015.21, -1.57),
             (2015.28, -1.17), (2015.35, -0.25), (2015.42, 0.55), (2015.47, 0.26), (2015.53, -1.00),
             (2015.58, -0.31), (2015.63, -0.42), (2015.68, 0.15), (2015.74, -1.11), (2015.79, -0.65),
             (2015.87, -1.62), (2015.92, 0.03), (2015.98, 0.49), (2016.02, 1.01), (2016.08, 0.84),
             (2016.16, 1.12), (2016.21, 0.84), (2016.29, 1.18), (2016.34, 1.29), (2016.44, 1.46),
             (2016.53, 1.12), (2016.74, 0.43), (2016.84, -1.11), (2016.95, -1.11), (2017.03, -1.11),
             (2017.07, -1.34), (2017.16, -1.68), (2017.21, -1.45), (2017.26, -1.17), (2017.32, -0.77),
             (2017.39, -0.54), (2017.42, -0.31), (2017.47, 1.01), (2017.53, 0.89), (2017.58, 0.43),
             (2017.63, -0.77), (2017.68, -1.00), (2017.74, -1.34), (2017.79, -2.71), (2017.84, -1.74),
             (2017.89, -1.45), (2017.95, -1.17), (2018.00, -0.77), (2018.05, -0.88), (2018.11, -1.00),
             (2018.16, -0.94), (2018.21, -0.71), (2018.26, -0.42), (2018.32, 0.26), (2018.37, 0.95),
             (2018.42, 0.84), (2018.47, 0.26), (2018.53, 0.38), (2018.58, -0.08), (2018.63, -0.77),
             (2018.68, -1.34), (2018.74, -1.34), (2018.79, -1.40), (2018.84, -1.51), (2018.89, -1.11),
             (2018.93, -1.68), (2019.00, -2.08), (2019.05, -2.37), (2019.11, -2.14), (2019.16, -2.54),
             (2019.21, -0.88), (2019.26, -0.54), (2019.32, 1.29), (2019.37, 1.75), (2019.39, 0.38),
             (2019.45, -0.19), (2019.49, 0.03), (2019.53, -0.54), (2019.58, -0.65), (2019.63, -0.25),
             (2019.68, -1.40), (2019.74, -0.77), (2019.79, -0.59), (2019.89, -0.14), (2019.95, -0.19),
             (2020.05, -0.65), (2020.16, -1.45), (2020.21, -1.68), (2020.32, -2.02), (2020.37, -1.40),
             (2020.42, -0.65), (2020.47, -0.42), (2020.53, -0.65), (2020.58, -0.94), (2020.63, -1.05),
             (2020.74, -1.00), (2020.84, -0.88), (2020.95, -0.71), (2021.05, -0.08), (2021.16, 0.38),
             (2021.21, 1.12), (2021.26, 1.46), (2021.32, 1.64), (2021.37, 2.21), (2021.42, 2.12),
             (2021.45, 2.04), (2021.49, 1.69), (2021.53, 1.81), (2021.58, 1.64), (2021.63, 1.18),
             (2021.68, 1.24), (2021.74, 1.41), (2021.79, 1.12), (2021.87, 0.84), (2021.95, 0.32),
             (2022.00, 0.26), (2022.05, 0.61), (2022.11, -1.00), (2022.19, -0.37), (2022.26, 0.03),
             (2022.32, 0.84), (2022.37, 0.89), (2022.42, 1.12), (2022.47, 0.66), (2022.53, 0.21),
             (2022.58, 0.49), (2022.63, 0.61), (2022.68, 0.72), (2022.74, 0.84), (2022.79, 0.03),
             (2022.84, -0.54), (2022.89, -1.51), (2022.95, -1.22), (2023.00, 0.03), (2023.05, 0.15),
             (2023.11, 0.26), (2023.16, -0.42), (2023.21, 0.38), (2023.26, 0.15), (2023.32, 0.55),
             (2023.37, -0.42), (2023.42, 0.61), (2023.47, 1.18)]

left_xticks = list(range(2006, 2023, 2))
right_xticks = list(range(2015, 2024))

# ---------------- STYLE ----------------
C_DOT = '#3a9a2a'
C_TREND = '#45b536'
C_FIT = '#2a2a2a'
C_STEP = '#3a3a3a'
C_AX = '#333333'
C_GRID = '#e8e8e8'

fig = plt.figure(figsize=(6.9, 7.86), dpi=100)

L0, L1 = 57 / 690, 347 / 690
R0, R1 = 397 / 690, 687 / 690
rows = [(7, 241), (260, 496), (518, 751)]


def make_ax(x0, x1, r):
    top, bot = r
    return fig.add_axes([x0, 1 - bot / 786, x1 - x0, (bot - top) / 786])


def style(ax, xlim, ylim, yticks, ylabels, grid, xticks=None, bottom=False, top=False):
    ax.set_xlim(*xlim)
    ax.set_ylim(*ylim)
    for g in grid:
        ax.axvline(g, color=C_GRID, lw=0.8, zorder=0)
    ax.set_yticks(yticks)
    ax.set_yticklabels(ylabels)
    ax.tick_params(axis='y', direction='out', length=4, width=1, color=C_AX,
                   labelsize=10.5, labelcolor='#222222', pad=2)
    ax.spines['right'].set_visible(False)
    ax.spines['top'].set_visible(top)
    ax.spines['bottom'].set_visible(bottom)
    ax.spines['left'].set_color(C_AX)
    ax.spines['left'].set_linewidth(1.0)
    ax.spines['top'].set_color('#222222')
    ax.spines['bottom'].set_color(C_AX)
    if xticks is not None:
        ax.set_xticks(xticks)
        ax.set_xticklabels([str(t) for t in xticks], rotation=90)
        ax.tick_params(axis='x', length=0, labelsize=9.8, labelcolor='#222222', pad=1.5)
    else:
        ax.set_xticks([])
    # right edge with end caps
    ax.plot([1, 1], [0, 1], transform=ax.transAxes, color='#555555', lw=1.4,
            marker='_', ms=7, mew=1.4, clip_on=False, zorder=6)


def draw(ax, step_x, step_v, obs, fit, trend=None):
    sv = list(step_v) + [step_v[-1]]
    ax.step(step_x, sv, where='post', color=C_STEP, lw=0.9, dashes=(4, 2.5), zorder=1)
    o = np.array(obs)
    ax.scatter(o[:, 0], o[:, 1], s=3.5, color=C_DOT, lw=0, zorder=2)
    f = np.array(fit)
    ax.plot(f[:, 0], f[:, 1], color=C_FIT, lw=0.9, zorder=3)
    if trend is not None:
        t = np.array(trend)
        ax.plot(t[:, 0], t[:, 1], color=C_TREND, lw=1.3, zorder=4)


def arrow(ax, xa, xb, y):
    ax.annotate('', xy=(xb, y), xytext=(xa, y),
                arrowprops=dict(arrowstyle='<|-|>', color='#1a1a1a', lw=1.2,
                                shrinkA=0, shrinkB=0, mutation_scale=9),
                annotation_clip=False, zorder=7)


def marker_line(ax, x, ylo, label, side):
    ytop = ax.get_ylim()[1]
    ax.plot([x, x], [ylo, ytop], color='#333333', lw=1.0, zorder=6, clip_on=False)
    off = 1.5 if side == 'right' else -1.5
    ax.annotate(label, xy=(x, ytop), xytext=(off, -4), textcoords='offset points',
                rotation=90, fontsize=6.2, color='#222222',
                ha='left' if side == 'right' else 'right', va='top')


def name(ax, txt, y, va):
    ax.text(0.03, y, txt, transform=ax.transAxes, fontsize=12, color='#111111',
            ha='left', va=va)


LX = (2006, 2023.5)
RX = (2014.34, 2023.47)
left_grid = list(range(2008, 2023, 2))
right_grid = list(range(2015, 2024))

# PFBA
ax = make_ax(L0, L1, rows[0])
style(ax, LX, (-4, 4), [-4, -2, 0, 2, 4], ['-4', '-2', '0', '2', '4'], left_grid)
draw(ax, left_step_years, pfba_step, pfba_obs, pfba_fit, pfba_trend)
arrow(ax, 2006, 2013, 3.76)
arrow(ax, 2017.25, 2023.5, 3.76)
marker_line(ax, 2013, 2.70, '2013', 'right')
marker_line(ax, 2017.25, 2.70, '2017', 'left')
ax.text(2009.4, 3.36, r't$_2$ = 1.6 years', ha='center', va='center', fontsize=8.3, color='#222222')
ax.text(2020.1, 3.36, r't$_2$ = 4.0 years', ha='center', va='center', fontsize=8.3, color='#222222')
name(ax, 'PFBA', 0.03, 'bottom')

# PFOA
ax = make_ax(L0, L1, rows[1])
style(ax, LX, (-5, 2), [-5, -4, -2, 0, 2], ['', '-4', '-2', '0', '2'], left_grid)
draw(ax, left_step_years, pfoa_step, pfoa_obs, pfoa_fit, pfoa_trend)
arrow(ax, 2006, 2013, 1.85)
arrow(ax, 2017.25, 2023.5, 1.85)
marker_line(ax, 2013, 0.92, '2013', 'right')
marker_line(ax, 2017.25, 0.92, '2017', 'left')
ax.text(2009.4, 1.47, r't$_2$ = 2.0 years', ha='center', va='center', fontsize=8.3, color='#222222')
ax.text(2020.1, 1.47, r't$_2$ = 7.3 years', ha='center', va='center', fontsize=8.3, color='#222222')
name(ax, 'PFOA', 0.03, 'bottom')

# PFOS
ax = make_ax(L0, L1, rows[2])
style(ax, LX, (-6, 2), [-6, -4, -2, 0, 2], ['-6', '-4', '-2', '0', '2'], left_grid,
      xticks=left_xticks, bottom=True)
draw(ax, left_step_years, pfos_step, pfos_obs, pfos_fit, pfos_trend)
arrow(ax, 2006, 2013, 1.81)
arrow(ax, 2013, 2023.5, 1.81)
marker_line(ax, 2013, 0.84, '2013', 'right')
ax.text(2009.4, 1.41, r't$_2$ = 1.9 years', ha='center', va='center', fontsize=8.3, color='#222222')
ax.text(2018.2, 1.41, r't$_{1/2}$ = 2.9 years', ha='center', va='center', fontsize=8.3, color='#222222')
name(ax, 'PFOS', 0.04, 'bottom')

# TFA
ax = make_ax(R0, R1, rows[0])
style(ax, RX, (0, 6), [0, 2, 4, 6], ['0', '2', '4', '6'], right_grid, top=True)
draw(ax, right_step_years, tfa_step, tfa_obs, tfa_fit, tfa_trend)
name(ax, 'TFA', 0.95, 'top')

# PFPrA
ax = make_ax(R0, R1, rows[1])
style(ax, RX, (-4, 4), [-4, -2, 0, 2, 4], ['-4', '-2', '0', '2', '4'], right_grid)
draw(ax, right_step_years, pfpra_step, pfpra_obs, pfpra_fit, pfpra_trend)
name(ax, 'PFPrA', 0.985, 'top')

# HF2OH
ax = make_ax(R0, R1, rows[2])
style(ax, RX, (-4, 4), [-4, -2, 0, 2, 4], ['-4', '-2', '0', '2', '4'], right_grid,
      xticks=right_xticks, bottom=True)
draw(ax, right_step_years, hf2oh_step, hf2oh_obs, hf2oh_fit)
name(ax, 'HF2OH', 0.99, 'top')

fig.text(0.022, 0.515, 'ln(C) (pg/m$^3$)', rotation=90, ha='center', va='center',
         fontsize=12.5, color='#222222')

fig.savefig('out.png', dpi=100)
